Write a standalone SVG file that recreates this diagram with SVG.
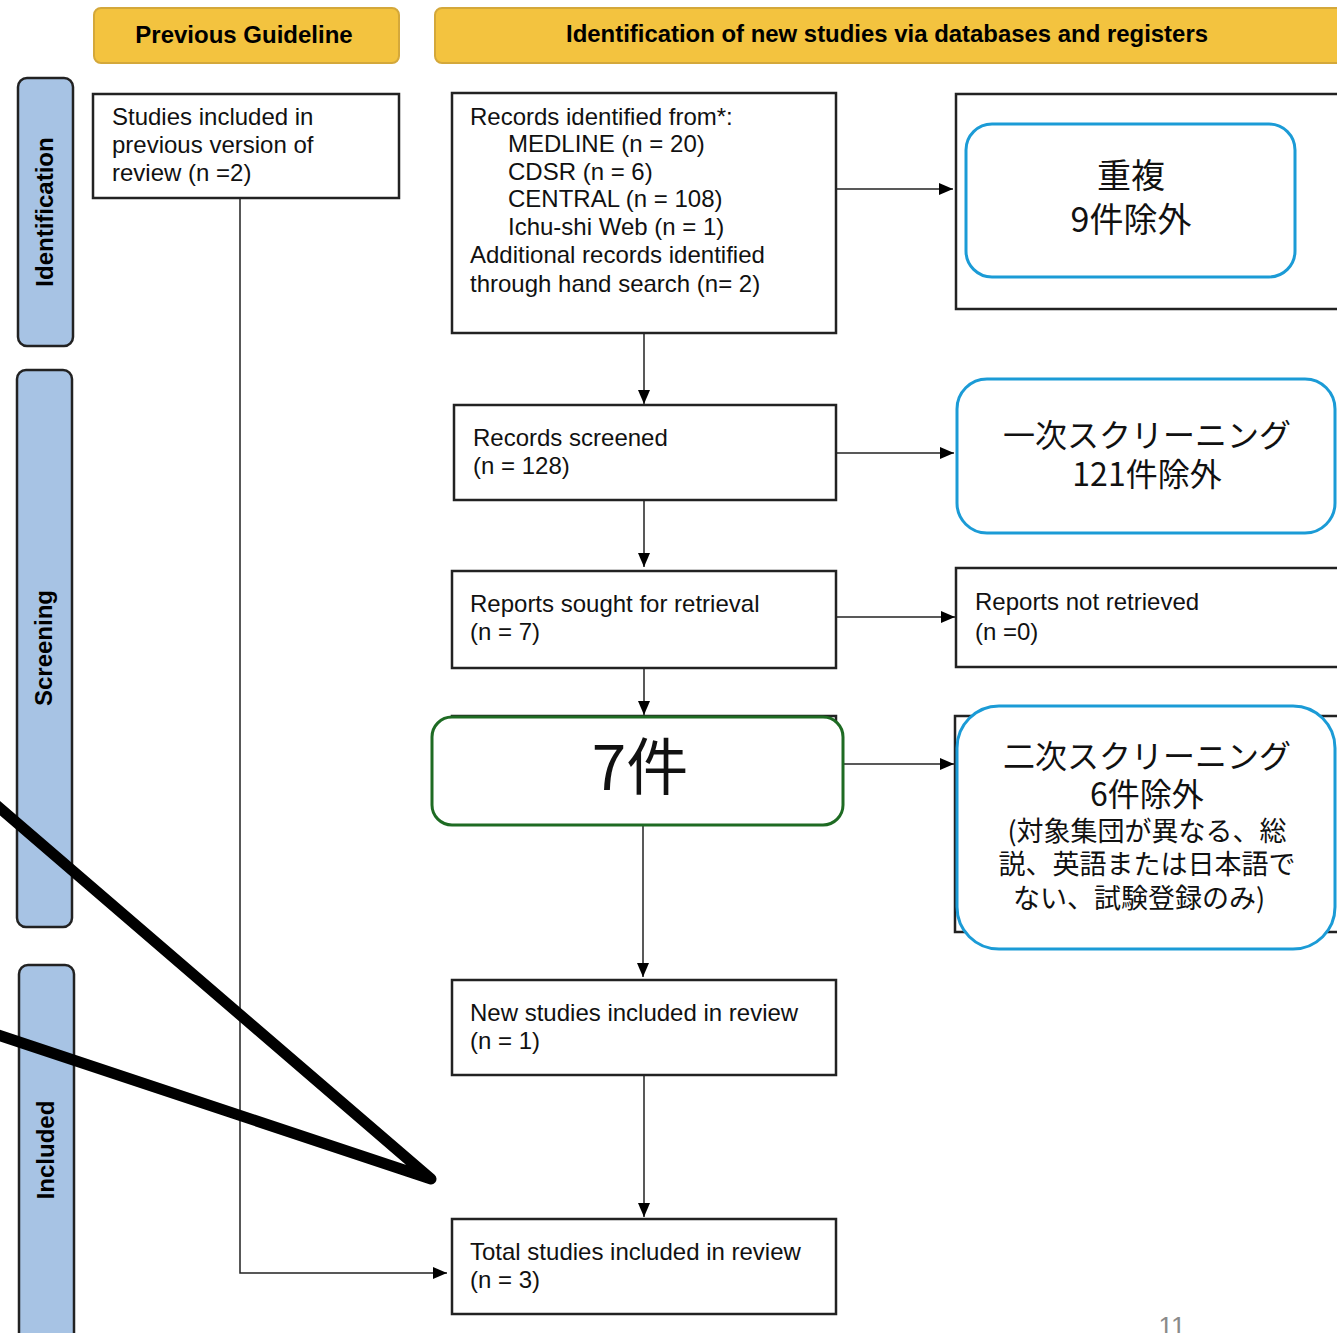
<svg xmlns="http://www.w3.org/2000/svg" width="1337" height="1333" viewBox="0 0 1337 1333">
<defs>
<marker id="arrL" viewBox="0 0 14 12" refX="14" refY="6" markerWidth="14" markerHeight="12" markerUnits="userSpaceOnUse" orient="auto">
<path d="M0,0 L14,6 L0,12 z" fill="#000"/>
</marker>
</defs>
<style>
.hdr{fill:#f3c33f;stroke:#d4a83a;stroke-width:2}
.hdrt{font-family:"Liberation Sans",Arial,sans-serif;font-weight:bold;font-size:24px;fill:#000;text-anchor:middle}
.side{fill:#a7c3e4;stroke:#222;stroke-width:2.5}
.sidet{font-family:"Liberation Sans",Arial,sans-serif;font-weight:bold;font-size:24px;fill:#000;text-anchor:middle}
.box{fill:#fff;stroke:#222;stroke-width:2.5}
.t{font-family:"Liberation Sans",Arial,sans-serif;font-size:24px;fill:#111}
.blue{fill:#fff;stroke:#1b9bd6;stroke-width:3}
.green{fill:#fff;stroke:#1e6b23;stroke-width:3}
.jp{font-family:"Noto Sans CJK JP","Noto Sans CJK SC",sans-serif;fill:#111;text-anchor:middle}
.ln{stroke:#222;stroke-width:1.5;fill:none}
.thick{stroke:#000;stroke-width:11;stroke-linecap:round;stroke-linejoin:round;fill:none}
</style>

<g id="header-previous">
<rect class="hdr" x="94" y="8" width="305" height="55" rx="7"/>
<text class="hdrt" x="244" y="43">Previous Guideline</text>
</g>
<g id="header-new">
<rect class="hdr" x="435" y="8" width="912" height="55" rx="7"/>
<text class="hdrt" x="887" y="42" textLength="642" lengthAdjust="spacingAndGlyphs">Identification of new studies via databases and registers</text>
</g>

<g id="side-identification">
<rect class="side" x="18" y="78" width="55" height="268" rx="9"/>
<text class="sidet" transform="translate(53,212) rotate(-90)">Identification</text>
</g>
<g id="side-screening">
<rect class="side" x="17" y="370" width="55" height="557" rx="9"/>
<text class="sidet" transform="translate(52,648) rotate(-90)">Screening</text>
</g>
<g id="side-included">
<rect class="side" x="19" y="965" width="55" height="380" rx="9"/>
<text class="sidet" transform="translate(54,1150) rotate(-90)">Included</text>
</g>

<g id="connectors">
<line class="ln" x1="836" y1="189" x2="953" y2="189" marker-end="url(#arrL)"/>
<line class="ln" x1="644" y1="333" x2="644" y2="404" marker-end="url(#arrL)"/>
<line class="ln" x1="836" y1="453" x2="954" y2="453" marker-end="url(#arrL)"/>
<line class="ln" x1="644" y1="500" x2="644" y2="567" marker-end="url(#arrL)"/>
<line class="ln" x1="836" y1="617" x2="955" y2="617" marker-end="url(#arrL)"/>
<line class="ln" x1="644" y1="668" x2="644" y2="715" marker-end="url(#arrL)"/>
<line class="ln" x1="844" y1="764" x2="954" y2="764" marker-end="url(#arrL)"/>
<line class="ln" x1="643" y1="825" x2="643" y2="977" marker-end="url(#arrL)"/>
<line class="ln" x1="644" y1="1075" x2="644" y2="1217" marker-end="url(#arrL)"/>
<polyline class="ln" points="240,198 240,1273 447,1273" marker-end="url(#arrL)"/>
</g>

<g id="node-previous">
<rect class="box" x="93" y="94" width="306" height="104"/>
<text class="t" x="112" y="125">Studies included in</text>
<text class="t" x="112" y="153">previous version of</text>
<text class="t" x="112" y="181">review (n =2)</text>
</g>

<g id="node-records">
<rect class="box" x="452" y="93" width="384" height="240"/>
<text class="t" x="470" y="125">Records identified from*:</text>
<text class="t" x="508" y="152">MEDLINE (n = 20)</text>
<text class="t" x="508" y="180">CDSR (n = 6)</text>
<text class="t" x="508" y="207">CENTRAL (n = 108)</text>
<text class="t" x="508" y="235">Ichu-shi Web (n = 1)</text>
<text class="t" x="470" y="263">Additional records identified</text>
<text class="t" x="470" y="292">through hand search (n= 2)</text>
</g>

<g id="node-duplicates">
<rect class="box" x="956" y="94" width="400" height="215"/>
<rect class="blue" x="966" y="124" width="329" height="153" rx="26"/>
<text class="jp" x="1131" y="188" font-size="34">重複</text>
<text class="jp" x="1131" y="232" font-size="34">9件除外</text>
</g>

<g id="node-screened">
<rect class="box" x="454" y="405" width="382" height="95"/>
<text class="t" x="473" y="446">Records screened</text>
<text class="t" x="473" y="474">(n = 128)</text>
</g>

<g id="node-first-screening">
<rect class="blue" x="957" y="379" width="378" height="154" rx="30"/>
<text class="jp" x="1147" y="447" font-size="32">一次スクリーニング</text>
<text class="jp" x="1147" y="486" font-size="32">121件除外</text>
</g>

<g id="node-sought">
<rect class="box" x="452" y="571" width="384" height="97"/>
<text class="t" x="470" y="612">Reports sought for retrieval</text>
<text class="t" x="470" y="640">(n = 7)</text>
</g>

<g id="node-not-retrieved">
<rect class="box" x="956" y="568" width="400" height="99"/>
<text class="t" x="975" y="610">Reports not retrieved</text>
<text class="t" x="975" y="640">(n =0)</text>
</g>

<g id="node-seven">
<rect class="box" x="452" y="716" width="384" height="100"/>
<rect class="green" x="432" y="717" width="411" height="108" rx="20"/>
<text class="jp" x="640" y="790" font-size="62">7件</text>
</g>

<g id="node-second-screening">
<rect class="box" x="955" y="716" width="400" height="216"/>
<rect class="blue" x="957" y="706" width="378" height="243" rx="42"/>
<text class="jp" x="1147" y="768" font-size="32">二次スクリーニング</text>
<text class="jp" x="1147" y="806" font-size="32">6件除外</text>
<text class="jp" x="1147" y="841" font-size="27">(対象集団が異なる、総</text>
<text class="jp" x="1147" y="874" font-size="27">説、英語または日本語で</text>
<text class="jp" x="1139" y="908" font-size="27">ない、試験登録のみ)</text>
</g>

<g id="node-new-studies">
<rect class="box" x="452" y="980" width="384" height="95"/>
<text class="t" x="470" y="1021">New studies included in review</text>
<text class="t" x="470" y="1049">(n = 1)</text>
</g>

<g id="node-total">
<rect class="box" x="452" y="1219" width="384" height="95"/>
<text class="t" x="470" y="1260">Total studies included in review</text>
<text class="t" x="470" y="1288">(n = 3)</text>
</g>

<g id="pointer-lines">
<polyline class="thick" points="-5,804 431,1179 -5,1034"/>
</g>

<text x="1172" y="1335" font-family="Liberation Sans,Arial,sans-serif" font-size="26" fill="#8a8a8a" text-anchor="middle">11</text>
</svg>
